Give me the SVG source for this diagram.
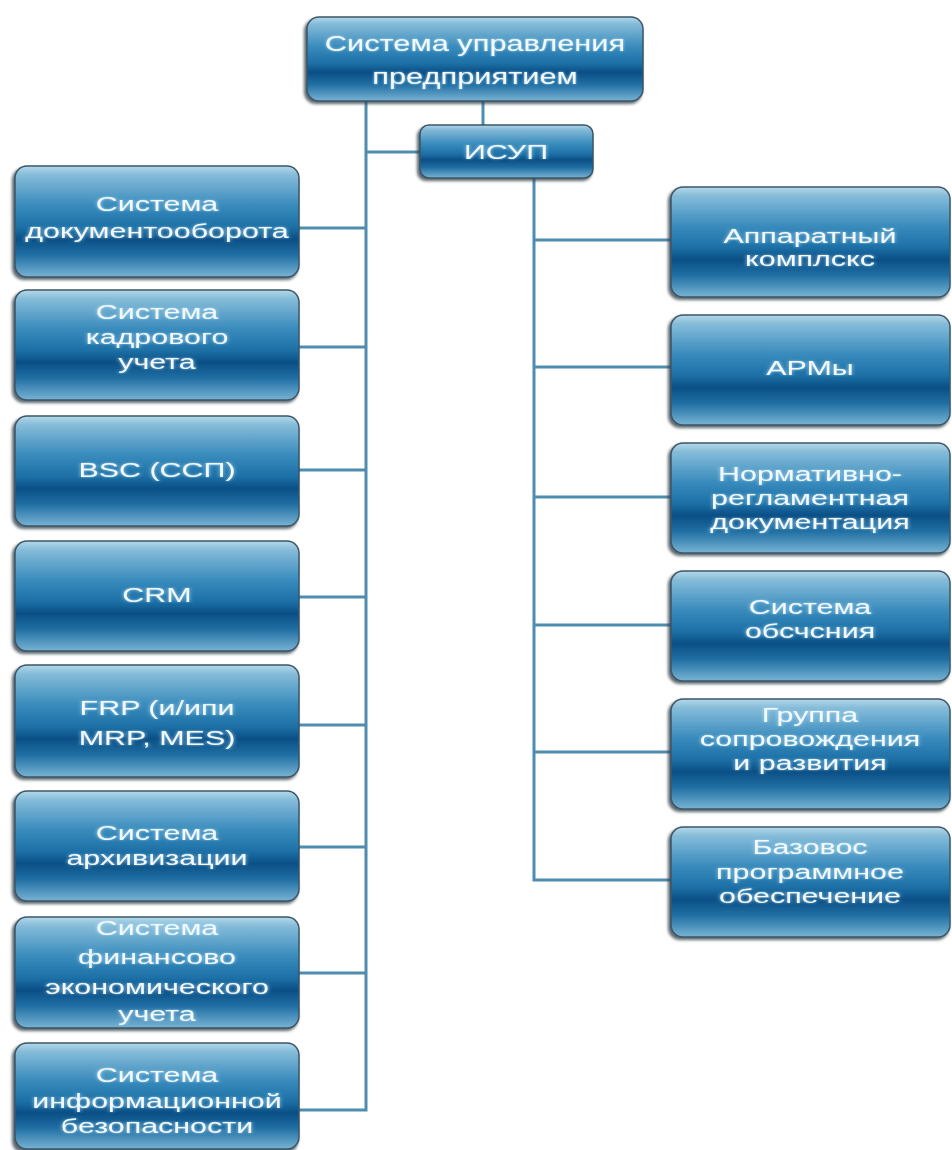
<svg xmlns="http://www.w3.org/2000/svg" width="952" height="1150" viewBox="0 0 952 1150">
  <defs>
    <linearGradient id="boxGrad" x1="0" y1="0" x2="0" y2="1">
      <stop offset="0" stop-color="#b3d9ea"/>
      <stop offset="0.08" stop-color="#86bcd9"/>
      <stop offset="0.35" stop-color="#3a8cbd"/>
      <stop offset="0.55" stop-color="#1c70a6"/>
      <stop offset="0.66" stop-color="#0a4f86"/>
      <stop offset="0.8" stop-color="#1f6ea3"/>
      <stop offset="1" stop-color="#78b3d4"/>
    </linearGradient>
    <filter id="glow" x="-10%" y="-30%" width="120%" height="160%">
      <feGaussianBlur in="SourceAlpha" stdDeviation="1.3" result="b"/>
      <feFlood flood-color="#bfe6fa" flood-opacity="0.8"/>
      <feComposite in2="b" operator="in" result="g"/>
      <feMerge><feMergeNode in="g"/><feMergeNode in="SourceGraphic"/></feMerge>
    </filter>
    <filter id="shadow" x="-5%" y="-5%" width="110%" height="115%">
      <feGaussianBlur stdDeviation="1.5"/>
    </filter>
  </defs>
  <style>
    .shadow { fill: #34424c; opacity: 0.8; filter: url(#shadow); }
    .box { fill: url(#boxGrad); stroke: #3d5566; stroke-width: 1.5; }
    .lbl { font-family: "Liberation Sans", Arial, sans-serif; font-size: 21px; fill: #f2faff; text-anchor: middle; filter: url(#glow); }
    .top { font-size: 22px; }
    .conn { stroke: #4f8db0; stroke-width: 3; fill: none; }
  </style>
  <rect width="952" height="1150" fill="#ffffff"/>

  <g id="connectors">
    <line class="conn" x1="483" y1="100" x2="483" y2="126"/>
    <polyline class="conn" points="366,100 366,1110 299,1110"/>
    <line class="conn" x1="366" y1="152" x2="421" y2="152"/>
    <line class="conn" x1="299" y1="228" x2="366" y2="228"/>
    <line class="conn" x1="299" y1="347" x2="366" y2="347"/>
    <line class="conn" x1="299" y1="470" x2="366" y2="470"/>
    <line class="conn" x1="299" y1="597" x2="366" y2="597"/>
    <line class="conn" x1="299" y1="725" x2="366" y2="725"/>
    <line class="conn" x1="299" y1="847" x2="366" y2="847"/>
    <line class="conn" x1="299" y1="973" x2="366" y2="973"/>
    <polyline class="conn" points="534,177 534,880 672,880"/>
    <line class="conn" x1="534" y1="240" x2="672" y2="240"/>
    <line class="conn" x1="534" y1="367" x2="672" y2="367"/>
    <line class="conn" x1="534" y1="497" x2="672" y2="497"/>
    <line class="conn" x1="534" y1="625" x2="672" y2="625"/>
    <line class="conn" x1="534" y1="752" x2="672" y2="752"/>
  </g>

  <g id="node-root">
    <rect class="shadow" x="304" y="19" width="338" height="85" rx="12"/>
    <rect class="box" x="307" y="17" width="336" height="84" rx="12"/>
    <g transform="translate(475,0) scale(1.4,1)">
      <text class="lbl top" x="0" y="51">Система управления</text>
      <text class="lbl top" x="0" y="84">предприятием</text>
    </g>
  </g>

  <g id="node-isup">
    <rect class="shadow" x="417" y="127" width="175" height="54" rx="9"/>
    <rect class="box" x="420" y="125" width="173" height="53" rx="9"/>
    <g transform="translate(506,0) scale(1.45,1)">
      <text class="lbl" x="0" y="159">ИСУП</text>
    </g>
  </g>

  <g id="node-docflow">
    <rect class="shadow" x="12" y="168" width="286" height="112" rx="12"/>
    <rect class="box" x="15" y="166" width="284" height="111" rx="12"/>
    <g transform="translate(157,0) scale(1.45,1)">
      <text class="lbl" x="0" y="211">Система</text>
      <text class="lbl" x="0" y="238">документооборота</text>
    </g>
  </g>

  <g id="node-hr">
    <rect class="shadow" x="12" y="292" width="286" height="111" rx="12"/>
    <rect class="box" x="15" y="290" width="284" height="110" rx="12"/>
    <g transform="translate(157,0) scale(1.45,1)">
      <text class="lbl" x="0" y="319">Система</text>
      <text class="lbl" x="0" y="344">кадрового</text>
      <text class="lbl" x="0" y="369">учета</text>
    </g>
  </g>

  <g id="node-bsc">
    <rect class="shadow" x="12" y="418" width="286" height="111" rx="12"/>
    <rect class="box" x="15" y="416" width="284" height="110" rx="12"/>
    <g transform="translate(157,0) scale(1.45,1)">
      <text class="lbl" x="0" y="477">BSC (ССП)</text>
    </g>
  </g>

  <g id="node-crm">
    <rect class="shadow" x="12" y="543" width="286" height="111" rx="12"/>
    <rect class="box" x="15" y="541" width="284" height="110" rx="12"/>
    <g transform="translate(157,0) scale(1.45,1)">
      <text class="lbl" x="0" y="602">CRM</text>
    </g>
  </g>

  <g id="node-erp">
    <rect class="shadow" x="12" y="667" width="286" height="113" rx="12"/>
    <rect class="box" x="15" y="665" width="284" height="112" rx="12"/>
    <g transform="translate(157,0) scale(1.45,1)">
      <text class="lbl" x="0" y="715">FRP (и/ипи</text>
      <text class="lbl" x="0" y="745">MRP, MES)</text>
    </g>
  </g>

  <g id="node-archive">
    <rect class="shadow" x="12" y="793" width="286" height="111" rx="12"/>
    <rect class="box" x="15" y="791" width="284" height="110" rx="12"/>
    <g transform="translate(157,0) scale(1.45,1)">
      <text class="lbl" x="0" y="840">Система</text>
      <text class="lbl" x="0" y="865">архивизации</text>
    </g>
  </g>

  <g id="node-finance">
    <rect class="shadow" x="12" y="919" width="286" height="112" rx="12"/>
    <rect class="box" x="15" y="917" width="284" height="111" rx="12"/>
    <g transform="translate(157,0) scale(1.45,1)">
      <text class="lbl" x="0" y="935">Система</text>
      <text class="lbl" x="0" y="964">финансово</text>
      <text class="lbl" x="0" y="994">экономического</text>
      <text class="lbl" x="0" y="1021">учета</text>
    </g>
  </g>

  <g id="node-security">
    <rect class="shadow" x="12" y="1045" width="286" height="108" rx="12"/>
    <rect class="box" x="15" y="1043" width="284" height="106" rx="12"/>
    <g transform="translate(157,0) scale(1.45,1)">
      <text class="lbl" x="0" y="1082">Система</text>
      <text class="lbl" x="0" y="1108">информационной</text>
      <text class="lbl" x="0" y="1133">безопасности</text>
    </g>
  </g>

  <g id="node-hardware">
    <rect class="shadow" x="668" y="189" width="281" height="111" rx="12"/>
    <rect class="box" x="671" y="187" width="279" height="110" rx="12"/>
    <g transform="translate(810,0) scale(1.45,1)">
      <text class="lbl" x="0" y="243">Аппаратный</text>
      <text class="lbl" x="0" y="266">комплскс</text>
    </g>
  </g>

  <g id="node-arm">
    <rect class="shadow" x="668" y="317" width="281" height="111" rx="12"/>
    <rect class="box" x="671" y="315" width="279" height="110" rx="12"/>
    <g transform="translate(810,0) scale(1.45,1)">
      <text class="lbl" x="0" y="375">АРМы</text>
    </g>
  </g>

  <g id="node-regulations">
    <rect class="shadow" x="668" y="445" width="281" height="111" rx="12"/>
    <rect class="box" x="671" y="443" width="279" height="110" rx="12"/>
    <g transform="translate(810,0) scale(1.45,1)">
      <text class="lbl" x="0" y="481">Нормативно-</text>
      <text class="lbl" x="0" y="505">регламентная</text>
      <text class="lbl" x="0" y="529">документация</text>
    </g>
  </g>

  <g id="node-training">
    <rect class="shadow" x="668" y="573" width="281" height="111" rx="12"/>
    <rect class="box" x="671" y="571" width="279" height="110" rx="12"/>
    <g transform="translate(810,0) scale(1.45,1)">
      <text class="lbl" x="0" y="614">Система</text>
      <text class="lbl" x="0" y="638">обсчсния</text>
    </g>
  </g>

  <g id="node-support">
    <rect class="shadow" x="668" y="701" width="281" height="111" rx="12"/>
    <rect class="box" x="671" y="699" width="279" height="110" rx="12"/>
    <g transform="translate(810,0) scale(1.45,1)">
      <text class="lbl" x="0" y="722">Группа</text>
      <text class="lbl" x="0" y="746">сопровождения</text>
      <text class="lbl" x="0" y="770">и развития</text>
    </g>
  </g>

  <g id="node-software">
    <rect class="shadow" x="668" y="829" width="281" height="111" rx="12"/>
    <rect class="box" x="671" y="827" width="279" height="110" rx="12"/>
    <g transform="translate(810,0) scale(1.45,1)">
      <text class="lbl" x="0" y="854">Базовос</text>
      <text class="lbl" x="0" y="879">программное</text>
      <text class="lbl" x="0" y="903">обеспечение</text>
    </g>
  </g>
</svg>
